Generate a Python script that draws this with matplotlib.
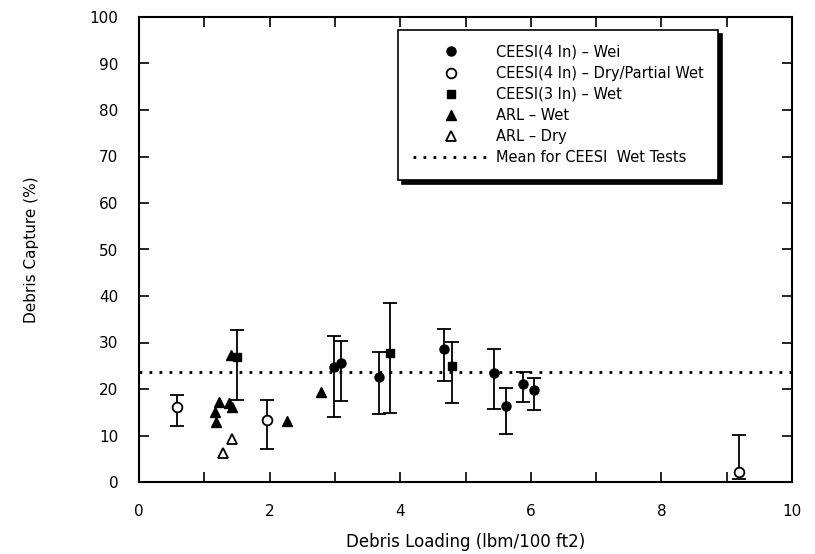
import matplotlib
matplotlib.use("Agg")
import matplotlib.pyplot as plt
import numpy as np

# CEESI 4 in - wet (filled circles)
wet4_x = [2.99, 3.10, 3.68, 4.67, 5.43, 5.62, 5.88, 6.05]
wet4_y = [24.7, 25.5, 22.6, 28.5, 23.5, 16.3, 21.0, 19.8]
wet4_lo = [14.0, 17.4, 14.6, 21.8, 15.8, 10.3, 17.1, 15.4]
wet4_hi = [31.4, 30.4, 28.0, 32.8, 28.5, 20.3, 23.6, 22.4]

# CEESI 4 in - dry / partial wet (open circles)
dry4_x = [0.58, 1.96, 9.19]
dry4_y = [16.2, 13.3, 2.2]
dry4_lo = [12.0, 7.1, 0.6]
dry4_hi = [18.7, 17.6, 10.1]

# CEESI 3 in - wet (squares)
wet3_x = [1.50, 3.85, 4.80]
wet3_y = [26.9, 27.8, 24.9]
wet3_lo = [17.6, 14.9, 16.9]
wet3_hi = [32.7, 38.4, 30.2]

# ARL
arl_wet_x = [1.16, 1.18, 1.23, 1.38, 1.43, 1.41, 2.27, 2.79]
arl_wet_y = [15.1, 13.0, 17.3, 17.0, 16.2, 27.3, 13.1, 19.4]
arl_dry_x = [1.29, 1.42]
arl_dry_y = [6.2, 9.2]

mean_wet = 23.6

plt.rcParams["font.family"] = "DejaVu Sans"

fig = plt.figure(figsize=(8.15, 5.54), dpi=100)
ax = fig.add_axes([139/815, 1-482/554, 653/815, 465/554])


def bars(x, y, lo, hi):
    y = np.array(y)
    err = [y - np.array(lo), np.array(hi) - y]
    ax.errorbar(x, y, yerr=err, fmt="none", ecolor="black",
                elinewidth=1.3, capsize=5, capthick=1.3, zorder=2)


bars(wet4_x, wet4_y, wet4_lo, wet4_hi)
bars(dry4_x, dry4_y, dry4_lo, dry4_hi)
bars(wet3_x, wet3_y, wet3_lo, wet3_hi)

ax.plot(wet4_x, wet4_y, "o", color="black", ms=6.5, ls="none",
        label="CEESI(4 In) – Wei", zorder=3)
ax.plot(dry4_x, dry4_y, "o", mfc="white", mec="black", mew=1.3, ms=7,
        ls="none", label="CEESI(4 In) – Dry/Partial Wet", zorder=3)
ax.plot(wet3_x, wet3_y, "s", color="black", ms=6, ls="none",
        label="CEESI(3 In) – Wet", zorder=3)
ax.plot(arl_wet_x, arl_wet_y, "^", color="black", ms=6.5, ls="none",
        label="ARL – Wet", zorder=3)
ax.plot(arl_dry_x, arl_dry_y, "^", mfc="white", mec="black", mew=1.3,
        ms=7, ls="none", label="ARL – Dry", zorder=3)
ax.axhline(mean_wet, color="black", lw=2, ls=(0, (1, 2.6)),
           label="Mean for CEESI  Wet Tests", zorder=1)

ax.set_xlim(0, 10)
ax.set_ylim(0, 100)
ax.set_xticks(range(0, 11, 2))
ax.set_xticks(range(0, 11), minor=True)
ax.set_yticks(range(0, 101, 10))
ax.tick_params(axis="both", which="both", direction="in", length=7,
               width=1.2, labelsize=11, top=True, right=True)
ax.tick_params(axis="x", pad=16)
ax.tick_params(axis="y", pad=15)
for s in ax.spines.values():
    s.set_linewidth(1.5)

ax.set_xlabel("Debris Loading (lbm/100 ft2)", fontsize=12, labelpad=10)
ax.set_ylabel("Debris Capture (%)", fontsize=11, labelpad=36)

leg = ax.legend(loc="upper left", bbox_to_anchor=(0.397, 0.972),
                fontsize=10.5, frameon=True, fancybox=False,
                shadow={"color": "black", "alpha": 1, "ox": 3, "oy": -3},
                borderpad=1.0, labelspacing=0.42, handlelength=5.2,
                handletextpad=0.5, borderaxespad=0)
leg.get_frame().set_edgecolor("black")
leg.get_frame().set_linewidth(1.2)
leg.get_frame().set_alpha(1)

fig.savefig("out.png", dpi=100)
